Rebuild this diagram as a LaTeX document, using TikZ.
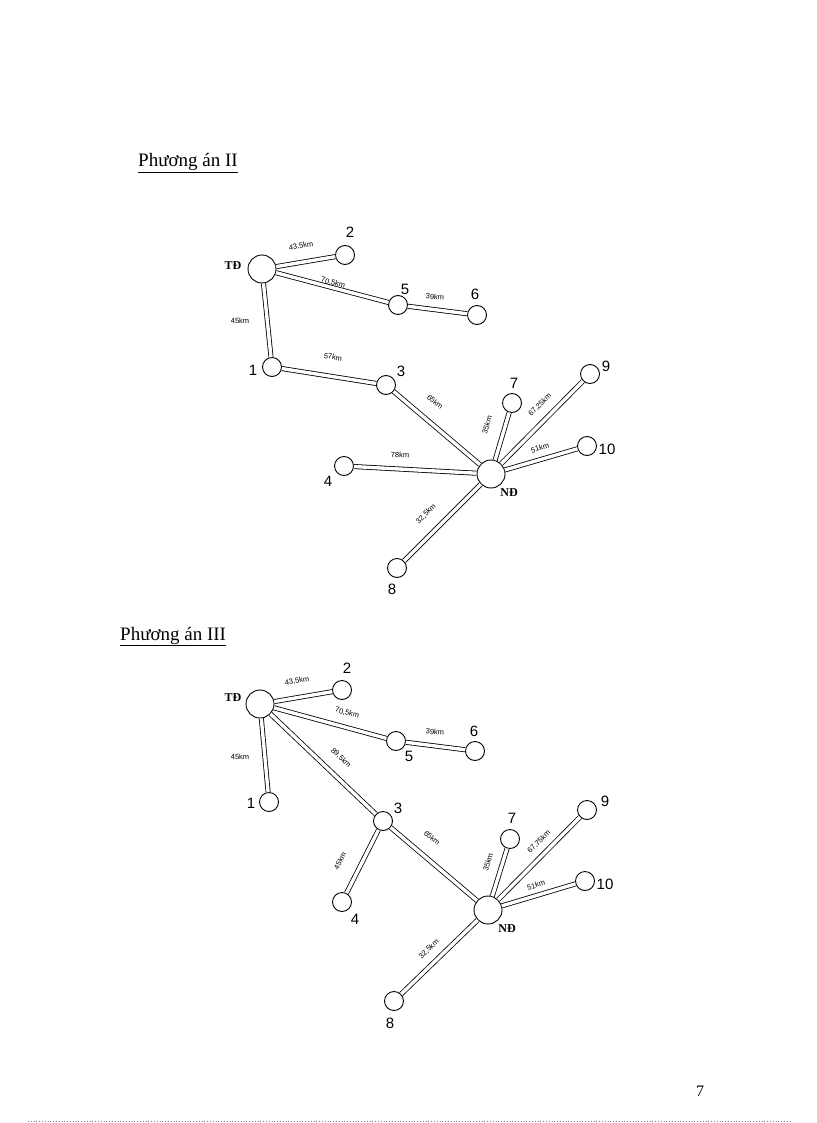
\documentclass[tikz,border=0pt]{standalone}
\usepackage{fontspec}
\setmainfont{Liberation Serif}
\setsansfont{Liberation Sans}
\begin{document}
\begin{tikzpicture}[x=1pt,y=-1pt,
  bus/.style={circle,draw,line width=0.9pt,fill=white,minimum size=19pt,inner sep=0pt},
  big/.style={bus,minimum size=28pt},
  wire/.style={draw,line width=0.8pt,double=white,double distance=3.4pt},
  elab/.style={font=\sffamily\fontsize{7.5}{7.5}\selectfont,inner sep=0pt},
  nlab/.style={font=\sffamily\fontsize{15}{15}\selectfont,inner sep=0pt},
  slab/.style={font=\bfseries\fontsize{12}{12}\selectfont,inner sep=0pt},
  title/.style={font=\fontsize{19}{19}\selectfont,inner sep=0pt,anchor=base west}]
\useasboundingbox (0,0) rectangle (816,1123);

% ---------- Phuong an II ----------
\node[title] (t1) at (138,167) {\underline{Phương án II}};

\node[big] (td1) at (262,269) {};
\node[bus] (a2) at (345,255) {};
\node[bus] (a5) at (398,305) {};
\node[bus] (a6) at (477,315) {};
\node[bus] (a1) at (272,367) {};
\node[bus] (a3) at (386,385) {};
\node[bus] (a7) at (512,403) {};
\node[bus] (a9) at (590,374) {};
\node[bus] (a10) at (587,446) {};
\node[bus] (a4) at (344,466) {};
\node[big] (nd1) at (491,474) {};
\node[bus] (a8) at (397,568) {};

\path[wire] (td1) -- (a2);
\path[wire] (td1) -- (a5);
\path[wire] (a5) -- (a6);
\path[wire] (td1) -- (a1);
\path[wire] (a1) -- (a3);
\path[wire] (a3) -- (nd1);
\path[wire] (nd1) -- (a7);
\path[wire] (nd1) -- (a9);
\path[wire] (nd1) -- (a10);
\path[wire] (a4) -- (nd1);
\path[wire] (nd1) -- (a8);

\node[slab] (ltd1) at (233,266) {TĐ};
\node[slab] (lnd1) at (509,493) {NĐ};
\node[nlab] (n2a) at (350,232) {2};
\node[nlab] (n5a) at (405,289) {5};
\node[nlab] (n6a) at (475,294) {6};
\node[nlab] (n1a) at (253,370) {1};
\node[nlab] (n3a) at (401,371) {3};
\node[nlab] (n7a) at (514,383) {7};
\node[nlab] (n9a) at (606,366) {9};
\node[nlab] (n10a) at (607,449) {10};
\node[nlab] (n4a) at (328,481) {4};
\node[nlab] (n8a) at (392,589) {8};

\node[elab,rotate=10] (e1a) at (301,246) {43,5km};
\node[elab,rotate=-15] (e2a) at (333,283) {70,5km};
\node[elab,rotate=-5] (e3a) at (435,297) {39km};
\node[elab] (e4a) at (240,321) {45km};
\node[elab,rotate=-9] (e5a) at (333,357) {57km};
\node[elab,rotate=-40] (e6a) at (435,402) {65km};
\node[elab,rotate=73] (e7a) at (487,425) {35km};
\node[elab,rotate=45] (e8a) at (540,405) {67,25km};
\node[elab,rotate=16] (e9a) at (540,448) {51km};
\node[elab,rotate=-3] (e10a) at (400,455) {78km};
\node[elab,rotate=45] (e11a) at (426,514) {32,5km};

% ---------- Phuong an III ----------
\node[title] (t2) at (120,640) {\underline{Phương án III}};

\node[big] (td2) at (260,704) {};
\node[bus] (b2) at (342,690) {};
\node[bus] (b5) at (396,741) {};
\node[bus] (b6) at (475,751) {};
\node[bus] (b1) at (269,802) {};
\node[bus] (b3) at (383,821) {};
\node[bus] (b7) at (510,839) {};
\node[bus] (b9) at (587,810) {};
\node[bus] (b10) at (585,881) {};
\node[bus] (b4) at (342,902) {};
\node[big] (nd2) at (488,910) {};
\node[bus] (b8) at (394,1001) {};

\path[wire] (td2) -- (b2);
\path[wire] (td2) -- (b5);
\path[wire] (b5) -- (b6);
\path[wire] (td2) -- (b1);
\path[wire] (td2) -- (b3);
\path[wire] (b3) -- (b4);
\path[wire] (b3) -- (nd2);
\path[wire] (nd2) -- (b7);
\path[wire] (nd2) -- (b9);
\path[wire] (nd2) -- (b10);
\path[wire] (nd2) -- (b8);

\node[slab] (ltd2) at (233,698) {TĐ};
\node[slab] (lnd2) at (507,929) {NĐ};
\node[nlab] (n2b) at (347,668) {2};
\node[nlab] (n5b) at (409,756) {5};
\node[nlab] (n6b) at (474,731) {6};
\node[nlab] (n1b) at (251,803) {1};
\node[nlab] (n3b) at (398,808) {3};
\node[nlab] (n7b) at (512,818) {7};
\node[nlab] (n9b) at (605,801) {9};
\node[nlab] (n10b) at (605,884) {10};
\node[nlab] (n4b) at (355,919) {4};
\node[nlab] (n8b) at (390,1023) {8};

\node[elab,rotate=10] (e1b) at (297,681) {43,5km};
\node[elab,rotate=-15] (e2b) at (347,713) {70,5km};
\node[elab,rotate=-5] (e3b) at (435,732) {39km};
\node[elab] (e4b) at (240,757) {45km};
\node[elab,rotate=-44] (e5b) at (341,758) {89,5km};
\node[elab,rotate=63] (e6b) at (340,861) {45km};
\node[elab,rotate=-40] (e7b) at (432,838) {65km};
\node[elab,rotate=73] (e8b) at (488,862) {35km};
\node[elab,rotate=45] (e9b) at (539,842) {67,75km};
\node[elab,rotate=17] (e10b) at (536,885) {51km};
\node[elab,rotate=44] (e11b) at (429,949) {32,5km};

% ---------- page footer ----------
\node[font=\fontsize{16}{16}\selectfont,inner sep=0pt] (pg) at (700,1091) {7};
\coordinate (f1) at (28,1121);
\coordinate (f2) at (792,1121);
\draw[gray,dotted,line width=0.8pt] (f1) -- (f2);
\end{tikzpicture}
\end{document}
